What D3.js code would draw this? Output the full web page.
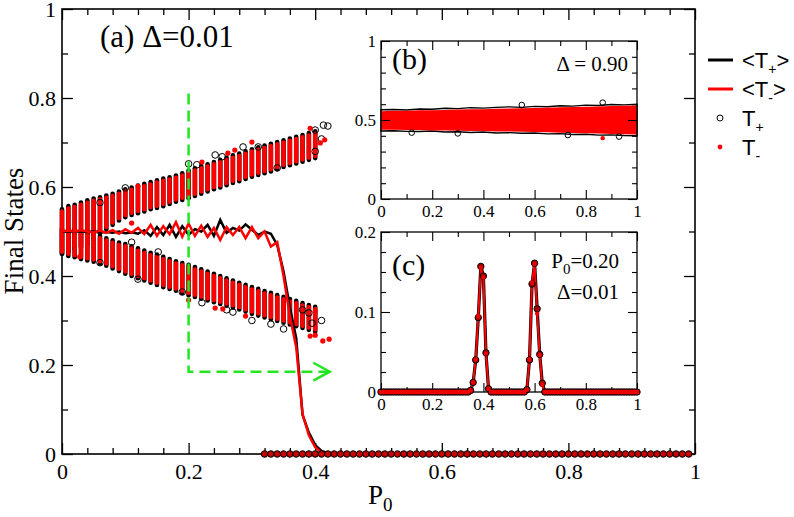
<!DOCTYPE html>
<html>
<head>
<meta charset="utf-8">
<script src="https://cdn.jsdelivr.net/npm/d3@7"></script>
<style>
  body { margin: 0; background: #fff; }
  svg { display: block; font-family: "Liberation Serif", serif; }
</style>
</head>
<body>
<script>
// P0 grid (step 0.01)
const p0 = [
  0.00,0.01,0.02,0.03,0.04,0.05,0.06,0.07,0.08,0.09,
  0.10,0.11,0.12,0.13,0.14,0.15,0.16,0.17,0.18,0.19,
  0.20,0.21,0.22,0.23,0.24,0.25,0.26,0.27,0.28,0.29,
  0.30,0.31,0.32,0.33,0.34,0.35,0.36,0.37,0.38,0.39,
  0.40,0.41,0.42,0.43,0.44,0.45,0.46,0.47,0.48,0.49,
  0.50,0.51,0.52,0.53,0.54,0.55,0.56,0.57,0.58,0.59,
  0.60,0.61,0.62,0.63,0.64,0.65,0.66,0.67,0.68,0.69,
  0.70,0.71,0.72,0.73,0.74,0.75,0.76,0.77,0.78,0.79,
  0.80,0.81,0.82,0.83,0.84,0.85,0.86,0.87,0.88,0.89,
  0.90,0.91,0.92,0.93,0.94,0.95,0.96,0.97,0.98,0.99,
  1.00
];

// panel (a): spread of final states per P0 (0.00 .. 0.40), upper and lower branch
const upHi = [.545,.552,.555,.560,.565,.569,.572,.576,.580,.585,
              .590,.594,.598,.602,.606,.610,.614,.617,.621,.626,
              .632,.637,.642,.646,.651,.656,.661,.666,.670,.675,
              .680,.684,.688,.692,.696,.700,.704,.708,.712,.716,.720];
const upLo = [.455,.460,.465,.470,.476,.490,.500,.510,.520,.530,
              .537,.542,.546,.550,.555,.558,.562,.567,.572,.576,
              .580,.585,.590,.595,.600,.604,.609,.614,.618,.623,
              .628,.632,.636,.640,.645,.650,.654,.658,.662,.666,.670];
const lowHi = [.500,.500,.500,.495,.490,.490,.485,.480,.475,.470,
               .467,.462,.457,.452,.447,.443,.438,.433,.428,.424,
               .420,.415,.410,.405,.400,.395,.390,.385,.380,.375,
               .370,.366,.361,.357,.352,.348,.343,.339,.334,.330,.326];
const lowLo = [.455,.450,.447,.443,.440,.437,.433,.428,.422,.416,
               .410,.405,.400,.395,.390,.385,.380,.376,.372,.367,
               .362,.358,.354,.350,.346,.342,.338,.334,.330,.325,
               .320,.316,.312,.308,.304,.300,.296,.292,.288,.284,.280];

// scattered single realisations outside the dense columns  [P0, value]
const outPlus = [[0.413,0.739],[0.42,0.737],[0.41,0.708],[0.40,0.680],[0.40,0.728],
                 [0.34,0.643],[0.286,0.690],[0.31,0.690],[0.242,0.672],[0.253,0.668],
                 [0.20,0.652],[0.213,0.650],[0.10,0.598],[0.06,0.565],[0.11,0.476],
                 [0.12,0.393],[0.19,0.364],[0.221,0.340],[0.26,0.324],[0.27,0.319],
                 [0.30,0.300],[0.33,0.292],[0.35,0.281],[0.38,0.324],[0.39,0.317],
                 [0.41,0.300],[0.395,0.294],[0.06,0.430],[0.152,0.454]];
const outMinus = [[0.30,0.701],[0.273,0.683],[0.392,0.732],[0.408,0.699],[0.415,0.706],
                  [0.38,0.672],[0.262,0.676],[0.12,0.602],[0.221,0.656],[0.11,0.519],
                  [0.20,0.346],[0.242,0.328],[0.254,0.326],[0.29,0.310],[0.40,0.320],
                  [0.392,0.265],[0.40,0.267],[0.412,0.254],[0.422,0.258],[0.028,0.443]];

// mean final states, P0 = 0.00 .. 0.45
const meanPlus = [.500,.500,.500,.500,.499,.500,.498,.499,.497,.500,
                  .496,.498,.495,.503,.490,.510,.492,.515,.488,.512,
                  .493,.505,.500,.515,.490,.526,.497,.508,.502,.516,
                  .504,.492,.500,.495,.470,.410,.330,.260,.088,.048,
                  .020,.007,.002,0,0,0];
const meanMinus = [.500,.502,.500,.503,.500,.498,.502,.497,.503,.495,
                   .505,.497,.508,.494,.515,.490,.512,.494,.521,.488,
                   .518,.490,.513,.488,.508,.481,.510,.492,.510,.485,
                   .510,.485,.500,.466,.476,.400,.310,.240,.090,.042,
                   .015,.003,0,0,0,0];

// realisations that died out (value 0) for P0 = 0.32 .. 0.99
const zeroStart = 32, zeroEnd = 99;

// inset (b): envelope of final states, Delta = 0.90
const bP0 = [0,0.05,0.10,0.15,0.20,0.25,0.30,0.35,0.40,0.45,0.50,
             0.55,0.60,0.65,0.70,0.75,0.80,0.85,0.90,0.95,1.00];
const bPlusHi = [.565,.566,.563,.570,.568,.574,.572,.578,.575,.580,.583,
                 .580,.586,.584,.590,.588,.594,.592,.598,.596,.600];
const bPlusLo = [.430,.432,.428,.427,.430,.424,.426,.421,.424,.418,.420,
                 .416,.418,.412,.414,.408,.410,.404,.406,.402,.400];
const bMinusHi = [.556,.558,.558,.561,.562,.564,.566,.568,.568,.571,.573,
                  .574,.576,.578,.580,.582,.584,.586,.588,.590,.592];
const bMinusLo = [.438,.438,.436,.436,.434,.433,.432,.430,.430,.428,.427,
                  .425,.424,.422,.420,.418,.416,.414,.412,.410,.408];
const bOutPlus = [[0.866,0.61],[0.30,0.415],[0.73,0.405],[0.93,0.395],[0.55,0.595],[0.12,0.42]];
const bOutMinus = [[0.866,0.385]];

// inset (c): distribution for P0 = 0.20, Delta = 0.01
const cPlus = [0,0,0,0,0,0,0,0,0,0, 0,0,0,0,0,0,0,0,0,0,
               0,0,0,0,0,0,0,0,0,0, 0,0,0,0,0,.002,.012,.040,.093,.157,
               .145,.049,.004,0,0,0,0,0,0,0, 0,0,0,0,0,0,0,.003,.040,.135,
               .161,.104,.047,.011,0,0,0,0,0,0, 0,0,0,0,0,0,0,0,0,0,
               0,0,0,0,0,0,0,0,0,0, 0,0,0,0,0,0,0,0,0,0, 0];
const cMinus = [0,0,0,0,0,0,0,0,0,0, 0,0,0,0,0,0,0,0,0,0,
                0,0,0,0,0,0,0,0,0,0, 0,0,0,0,0,.002,.012,.041,.095,.155,
                .143,.048,.004,0,0,0,0,0,0,0, 0,0,0,0,0,0,0,.003,.041,.137,
                .160,.098,.046,.009,0,0,0,0,0,0, 0,0,0,0,0,0,0,0,0,0,
                0,0,0,0,0,0,0,0,0,0, 0,0,0,0,0,0,0,0,0,0, 0];

// ticks
const mainXMajor = [0,0.2,0.4,0.6,0.8,1];
const mainXMinor = [0.04,0.08,0.12,0.16,0.24,0.28,0.32,0.36,0.44,0.48,0.52,0.56,
                    0.64,0.68,0.72,0.76,0.84,0.88,0.92,0.96];
const mainYMajor = [0,0.2,0.4,0.6,0.8,1];
const mainYMinor = [0.1,0.3,0.5,0.7,0.9];
const insXMajor = [0,0.2,0.4,0.6,0.8,1];
const insXMinor = [0.1,0.3,0.5,0.7,0.9];
const bYMajor = [0,0.5,1];
const bYMinor = [0.1,0.2,0.3,0.4,0.6,0.7,0.8,0.9];
const cYMajor = [0,0.1,0.2];
const cYMinor = [0.025,0.05,0.075,0.125,0.15,0.175];

// green guide from P0 = 0.20 to inset (c)
const guide = [[0.2,0.81],[0.2,0.185],[0.423,0.185]];
const guideHead = [[0.397,0.205],[0.423,0.185],[0.397,0.165]];

const SERIF = '"Liberation Serif", "Times New Roman", Times, serif';
const svg = d3.select('body').append('svg').attr('width', 794).attr('height', 517);

const x = d3.scaleLinear().domain([0, 1]).range([62, 695]);
const y = d3.scaleLinear().domain([0, 1]).range([454, 9]);
const xb = d3.scaleLinear().domain([0, 1]).range([381, 637]);
const yb = d3.scaleLinear().domain([0, 1]).range([199, 41]);
const xc = d3.scaleLinear().domain([0, 1]).range([381, 637]);
const yc = d3.scaleLinear().domain([0, 0.2]).range([392, 232]);

function frame(xs, ys, o) {
  const g = svg.append('g');
  const [l, r] = xs.range(), [b, t] = ys.range();
  const fmt = d3.format('~g');
  const sides = [
    [() => d3.axisBottom(xs), `translate(0,${b})`, o.xMajor, o.xMinor, true, o.xpad],
    [() => d3.axisTop(xs), `translate(0,${t})`, o.xMajor, o.xMinor, false, 0],
    [() => d3.axisLeft(ys), `translate(${l},0)`, o.yMajor, o.yMinor, true, o.ypad],
    [() => d3.axisRight(ys), `translate(${r},0)`, o.yMajor, o.yMinor, false, 0]
  ];
  sides.forEach(([mk, tr, maj, min, lab, pad]) => {
    g.append('g').attr('transform', tr)
      .call(mk().tickValues(maj).tickSize(-o.major).tickSizeOuter(0).tickPadding(pad)
        .tickFormat(lab ? fmt : ''));
    g.append('g').attr('transform', tr)
      .call(mk().tickValues(min).tickSize(-o.minor).tickSizeOuter(0).tickFormat(''));
  });
  g.selectAll('.domain').remove();
  g.selectAll('g').attr('font-family', null).attr('font-size', null);
  g.selectAll('.tick line').attr('stroke', '#000').attr('stroke-width', o.tw);
  g.selectAll('text').style('font-family', SERIF)
    .style('font-size', o.font + 'px').attr('fill', '#000');
  g.append('rect').attr('x', l).attr('y', t).attr('width', r - l).attr('height', b - t)
    .attr('fill', 'none').attr('stroke', '#000').attr('stroke-width', o.bw);
  return g;
}

// ---------- main panel ----------
frame(x, y, {xMajor: mainXMajor, xMinor: mainXMinor, yMajor: mainYMajor, yMinor: mainYMinor,
  major: 11, minor: 6, xpad: 9, ypad: 6, font: 22, tw: 1.3, bw: 1.6});

const cols = upHi.map((d, i) => ({p: p0[i], uh: d, ul: upLo[i], lh: lowHi[i], ll: lowLo[i]}));
const colG = svg.append('g').attr('stroke-linecap', 'round');
[['uh', 'ul'], ['lh', 'll']].forEach(([h, lo]) => {
  colG.append('g').selectAll('line').data(cols).join('line')
    .attr('x1', d => x(d.p)).attr('x2', d => x(d.p))
    .attr('y1', d => y(d[h] + 0.005)).attr('y2', d => y(d[lo] - 0.005))
    .attr('stroke', '#000').attr('stroke-width', 4.6);
});
[['uh', 'ul'], ['lh', 'll']].forEach(([h, lo]) => {
  colG.append('g').selectAll('line').data(cols).join('line')
    .attr('x1', d => x(d.p)).attr('x2', d => x(d.p))
    .attr('y1', d => y(d[h])).attr('y2', d => y(d[lo]))
    .attr('stroke', '#f00').attr('stroke-width', 4.4);
});

svg.append('g').selectAll('circle').data(outPlus).join('circle')
  .attr('cx', d => x(d[0])).attr('cy', d => y(d[1])).attr('r', 3.3)
  .attr('fill', 'none').attr('stroke', '#000').attr('stroke-width', 1);
svg.append('g').selectAll('circle').data(outMinus).join('circle')
  .attr('cx', d => x(d[0])).attr('cy', d => y(d[1])).attr('r', 2.6).attr('fill', '#f00');

const line = (xs, ys) => d3.line().x((d, i) => xs(p0[i])).y(d => ys(d));
svg.append('path').datum(meanPlus).attr('d', line(x, y))
  .attr('fill', 'none').attr('stroke', '#000').attr('stroke-width', 2.5);
svg.append('path').datum(meanMinus).attr('d', line(x, y))
  .attr('fill', 'none').attr('stroke', '#f00').attr('stroke-width', 2.5);

const zeros = p0.slice(zeroStart, zeroEnd + 1);
svg.append('g').selectAll('circle').data(zeros).join('circle')
  .attr('cx', d => x(d)).attr('cy', y(0)).attr('r', 3.3)
  .attr('fill', '#a00').attr('stroke', '#000').attr('stroke-width', 1);
svg.append('g').selectAll('circle').data(zeros).join('circle')
  .attr('cx', d => x(d)).attr('cy', y(0)).attr('r', 2.2).attr('fill', '#c00');

const gl = d3.line().x(d => x(d[0])).y(d => y(d[1]));
svg.append('path').datum(guide).attr('d', gl).attr('fill', 'none')
  .attr('stroke', '#22e622').attr('stroke-width', 2.5).attr('stroke-dasharray', '11,6');
svg.append('path').datum(guideHead).attr('d', gl).attr('fill', 'none')
  .attr('stroke', '#22e622').attr('stroke-width', 2.5);

svg.append('text').attr('x', 100).attr('y', 47).style('font-family', SERIF)
  .style('font-size', '31px').text('(a) Δ=0.01');

svg.append('text').attr('transform', 'translate(23,231) rotate(-90)').style('font-family', SERIF)
  .attr('text-anchor', 'middle').style('font-size', '27px').text('Final States');
const xt = svg.append('text').attr('x', 368).attr('y', 504).style('font-family', SERIF).style('font-size', '27px');
xt.append('tspan').text('P');
xt.append('tspan').attr('dy', 7).style('font-size', '19px').text('0');

// ---------- inset (b) ----------
svg.append('rect').attr('x', 381).attr('y', 41).attr('width', 256).attr('height', 158).attr('fill', '#fff');
const bData = bP0.map((p, i) => ({p, ph: bPlusHi[i], pl: bPlusLo[i], mh: bMinusHi[i], ml: bMinusLo[i]}));
svg.append('path').datum(bData)
  .attr('d', d3.area().x(d => xb(d.p)).y0(d => yb(d.pl)).y1(d => yb(d.ph)))
  .attr('fill', 'none').attr('stroke', '#000').attr('stroke-width', 1.4);
svg.append('path').datum(bData)
  .attr('d', d3.area().x(d => xb(d.p)).y0(d => yb(d.ml)).y1(d => yb(d.mh)))
  .attr('fill', '#f00');
svg.append('g').selectAll('circle').data(bOutPlus).join('circle')
  .attr('cx', d => xb(d[0])).attr('cy', d => yb(d[1])).attr('r', 2.8)
  .attr('fill', 'none').attr('stroke', '#000').attr('stroke-width', 1);
svg.append('g').selectAll('circle').data(bOutMinus).join('circle')
  .attr('cx', d => xb(d[0])).attr('cy', d => yb(d[1])).attr('r', 2.2).attr('fill', '#f00');
frame(xb, yb, {xMajor: insXMajor, xMinor: insXMinor, yMajor: bYMajor, yMinor: bYMinor,
  major: 9, minor: 5, xpad: 6, ypad: 5, font: 17, tw: 1.1, bw: 1.3});
svg.append('text').attr('x', 392).attr('y', 69).style('font-family', SERIF)
  .style('font-size', '30px').text('(b)');
svg.append('text').attr('x', 628).attr('y', 71).attr('text-anchor', 'end').style('font-family', SERIF)
  .style('font-size', '21px').text('Δ = 0.90');

// ---------- inset (c) ----------
svg.append('rect').attr('x', 381).attr('y', 232).attr('width', 256).attr('height', 160).attr('fill', '#fff');
frame(xc, yc, {xMajor: insXMajor, xMinor: insXMinor, yMajor: cYMajor, yMinor: cYMinor,
  major: 9, minor: 5, xpad: 6, ypad: 5, font: 17, tw: 1.1, bw: 1.3});
svg.append('path').datum(cPlus).attr('d', line(xc, yc))
  .attr('fill', 'none').attr('stroke', '#000').attr('stroke-width', 3.2);
svg.append('path').datum(cMinus).attr('d', line(xc, yc))
  .attr('fill', 'none').attr('stroke', '#f00').attr('stroke-width', 2);
svg.append('g').selectAll('circle').data(cPlus).join('circle')
  .attr('cx', (d, i) => xc(p0[i])).attr('cy', d => yc(d)).attr('r', 3.2)
  .attr('fill', '#a00').attr('stroke', '#000').attr('stroke-width', 1);
svg.append('g').selectAll('circle').data(cMinus).join('circle')
  .attr('cx', (d, i) => xc(p0[i])).attr('cy', d => yc(d)).attr('r', 2.2).attr('fill', '#e00');
svg.append('text').attr('x', 392).attr('y', 275).style('font-family', SERIF)
  .style('font-size', '30px').text('(c)');
const pt = svg.append('text').attr('x', 619).attr('y', 268).attr('text-anchor', 'end')
  .style('font-family', SERIF).style('font-size', '21px');
pt.append('tspan').text('P');
pt.append('tspan').attr('dy', 6).style('font-size', '15px').text('0');
pt.append('tspan').attr('dy', -6).text('=0.20');
svg.append('text').attr('x', 619).attr('y', 299).attr('text-anchor', 'end').style('font-family', SERIF)
  .style('font-size', '21px').text('Δ=0.01');

// ---------- legend ----------
const legendItems = [
  {kind: 'line', color: '#000', sub: '+', brackets: true},
  {kind: 'line', color: '#f00', sub: '-', brackets: true},
  {kind: 'circle', color: '#000', sub: '+', brackets: false},
  {kind: 'dot', color: '#f00', sub: '-', brackets: false}
];
const lg = svg.append('g')
  .selectAll('g').data(legendItems).join('g')
  .attr('transform', (d, i) => `translate(0,${60 + i * 29})`);
lg.filter(d => d.kind === 'line').append('line')
  .attr('x1', 708).attr('x2', 733).attr('stroke', d => d.color).attr('stroke-width', 3);
lg.filter(d => d.kind === 'circle').append('circle')
  .attr('cx', 720).attr('r', 3).attr('fill', 'none').attr('stroke', '#000').attr('stroke-width', 1);
lg.filter(d => d.kind === 'dot').append('circle')
  .attr('cx', 720).attr('r', 2.4).attr('fill', '#f00');
const lt = lg.append('text').attr('x', 742).attr('y', 8)
  .style('font-family', '"Liberation Sans", Arial, sans-serif').style('font-size', '22px');
lt.append('tspan').text(d => (d.brackets ? '<' : '') + 'T');
lt.append('tspan').attr('dy', 6).style('font-size', '14px').text(d => d.sub);
lt.append('tspan').attr('dy', -6).text(d => d.brackets ? '>' : '');
</script>
</body>
</html>
